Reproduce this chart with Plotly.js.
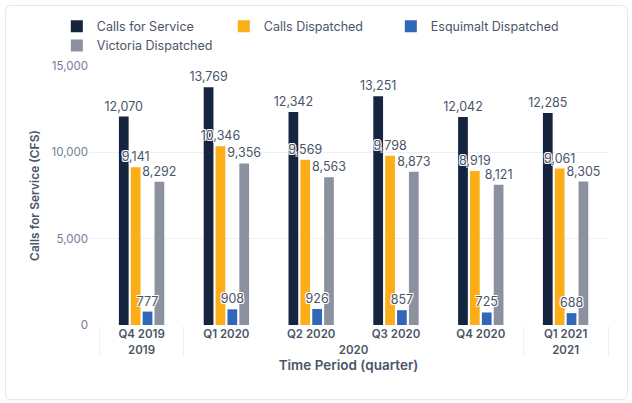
<!DOCTYPE html>
<html>
<head>
<meta charset="utf-8">
<script src="https://cdn.plot.ly/plotly-3.0.1.min.js"></script>
<style>
html,body{margin:0;padding:0;background:#fff;}
#wrap{position:relative;width:632px;height:403px;}
#chart{width:632px;height:403px;}
#frame{position:absolute;left:5px;top:5px;width:623px;height:395px;border:1px solid #e4e7ec;border-radius:6px;pointer-events:none;box-sizing:border-box;}
</style>
</head>
<body>
<div id="wrap"><div id="chart"></div><div id="frame"></div></div>
<script>
const years = ['2019','2020','2020','2020','2020','2021'];
const quarters = ['Q4 2019','Q1 2020','Q2 2020','Q3 2020','Q4 2020','Q1 2021'];
const seriesNames = ['Calls for Service','Calls Dispatched','Esquimalt Dispatched','Victoria Dispatched'];
const callsForService = [12070, 13769, 12342, 13251, 12042, 12285];
const callsDispatched = [9141, 10346, 9569, 9798, 8919, 9061];
const esquimaltDispatched = [777, 908, 926, 857, 725, 688];
const victoriaDispatched = [8292, 9356, 8563, 8873, 8121, 8305];
const colors = ['#17243f','#fbae17','#3067b9','#8b919f'];
const allValues = [callsForService, callsDispatched, esquimaltDispatched, victoriaDispatched];
const groups = ['g1','g2','g3','g4'];

const txtColor = '#4a5568';
const barTraces = allValues.map((vals, i) => ({
  type: 'bar',
  name: seriesNames[i],
  x: [years, quarters],
  y: vals,
  offsetgroup: groups[i],
  marker: {color: colors[i]},
  hoverinfo: 'y'
}));
const textTraces = allValues.map((vals, i) => ({
  type: 'bar',
  name: seriesNames[i] + ' labels',
  showlegend: false,
  x: [years, quarters],
  y: vals,
  offsetgroup: groups[i],
  marker: {color: 'rgba(0,0,0,0)'},
  text: vals.map(v => v.toLocaleString('en-US')),
  textposition: 'outside',
  constraintext: 'none',
  cliponaxis: false,
  textfont: {family: 'Inter, sans-serif', size: 12.5, color: txtColor,
    shadow: '-1px -1px 0 #fff, 1px -1px 0 #fff, -1px 1px 0 #fff, 1px 1px 0 #fff'},
  hoverinfo: 'skip'
}));

const layout = {
  width: 632, height: 403,
  margin: {l: 89, r: 24, t: 66, b: 78},
  paper_bgcolor: '#fff', plot_bgcolor: '#fff',
  font: {family: 'Inter, sans-serif', color: txtColor, size: 12},
  barmode: 'group',
  bargap: 0.44,
  bargroupgap: 0.18,
  showlegend: true,
  legend: {orientation: 'h', x: -0.062, xanchor: 'left', y: 1.21, yanchor: 'top',
    entrywidth: 122, entrywidthmode: 'pixels', font: {size: 12.5, color: txtColor},
    itemwidth: 30, tracegroupgap: 0, traceorder: 'normal'},
  xaxis: {
    type: 'multicategory',
    range: [-0.62, 5.5],
    tickfont: {size: 11.5, color: txtColor, weight: 600},
    dividercolor: '#edf0f4', dividerwidth: 1,
    showgrid: false, zeroline: false, showline: false,
    title: {text: 'Time Period (quarter)', font: {size: 13.5, color: txtColor, weight: 600}, standoff: 5}
  },
  yaxis: {
    range: [0, 15000],
    tickvals: [0, 5000, 10000, 15000],
    tickformat: ',d',
    tickfont: {size: 11.5, color: '#718096'},
    gridcolor: '#eef0f3', zeroline: false, showline: false,
    ticklen: 0, ticks: '',
    title: {text: 'Calls for Service (CFS)', font: {size: 12, color: txtColor, weight: 600}, standoff: 9}
  }
};

Plotly.newPlot('chart', barTraces.concat(textTraces), layout, {displayModeBar: false, staticPlot: true});
</script>
</body>
</html>
